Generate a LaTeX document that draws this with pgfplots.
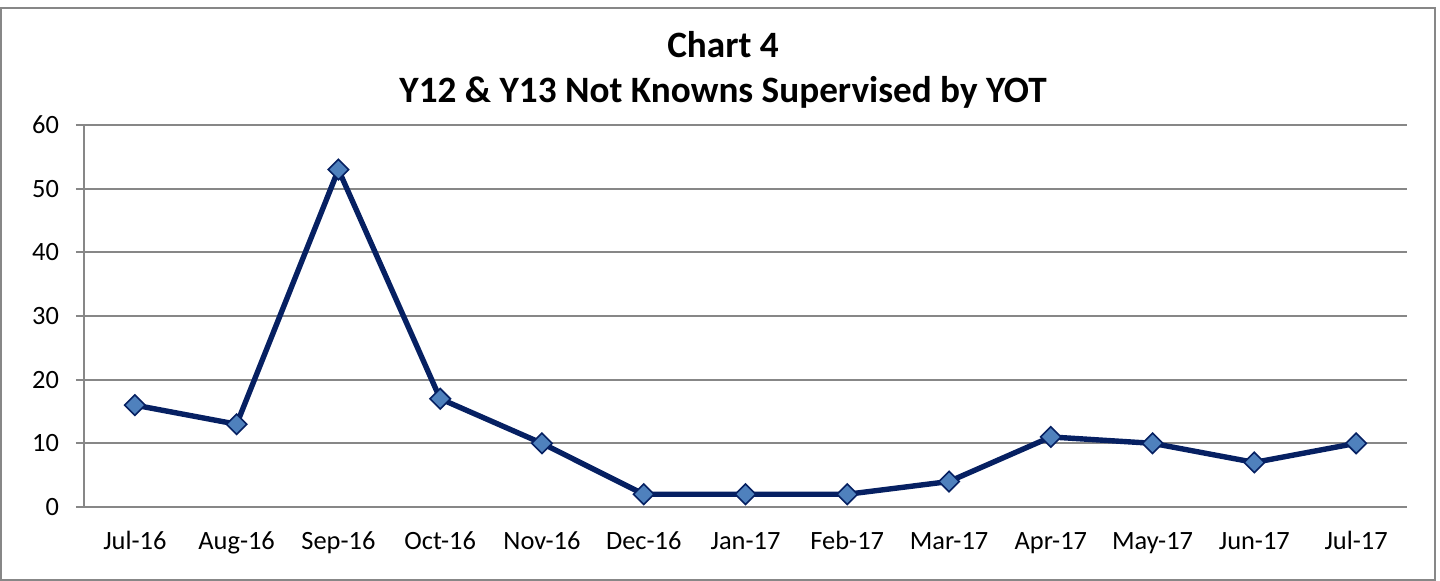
\documentclass[border=0pt]{standalone}
\usepackage{pgfplots}
\pgfplotsset{compat=1.18}
\usepackage{fontspec}
\setmainfont{Carlito}
\definecolor{navy}{RGB}{6,32,98}
\definecolor{mfill}{RGB}{79,129,189}
\definecolor{gridc}{RGB}{135,135,135}
\begin{document}
\begin{tikzpicture}
\useasboundingbox (-42pt,-37pt) rectangle (678pt,253.5pt);
\draw[gridc, line width=0.8pt] (-41.5pt,-36.5pt) rectangle (675.5pt,249.5pt);
\begin{axis}[
  at={(0,0)}, anchor=south west,
  scale only axis,
  width=661.5pt, height=191pt,
  xmin=-0.5, xmax=12.5, ymin=0, ymax=60,
  axis x line=bottom, axis y line=left,
  axis line style={-, gridc, line width=0.9pt},
  ytick={0,10,...,60},
  ymajorgrids, grid style={gridc, line width=0.9pt},
  xtick={0,...,12},
  xticklabels={Jul-16,Aug-16,Sep-16,Oct-16,Nov-16,Dec-16,Jan-17,Feb-17,Mar-17,Apr-17,May-17,Jun-17,Jul-17},
  major x tick style={draw=none},
  extra x ticks={-0.5,0.5,...,12.5},
  extra x tick labels={},
  extra x tick style={grid=none, tick style={draw=gridc, line width=0.9pt}, major tick length=7pt, tick align=outside},
  ytick style={draw=gridc, line width=0.9pt},
  tick align=outside, major tick length=4pt,
  ticklabel style={font=\fontsize{13.2}{15}\selectfont, text=black},
  xticklabel style={yshift=-6.5pt, text height=0.72em, text depth=0.22em},
  yticklabel style={xshift=-5pt},
  /pgf/number format/assume math mode=true,
  clip=false,
]
\addplot[navy, line width=2.7pt, mark=square*, mark size=3.6pt,
  mark options={fill=mfill, draw=navy, line width=0.8pt, rotate=45}]
  coordinates {(0,16) (1,13) (2,53) (3,17) (4,10) (5,2) (6,2) (7,2) (8,4) (9,11) (10,10) (11,7) (12,10)};
\end{axis}
\node[font=\fontsize{18.6}{21}\bfseries\selectfont] at (319.5pt,231pt) {Chart 4};
\node[font=\fontsize{18.6}{21}\bfseries\selectfont] at (319.5pt,207.5pt) {Y12 \& Y13 Not Knowns Supervised by YOT};
\end{tikzpicture}
\end{document}
